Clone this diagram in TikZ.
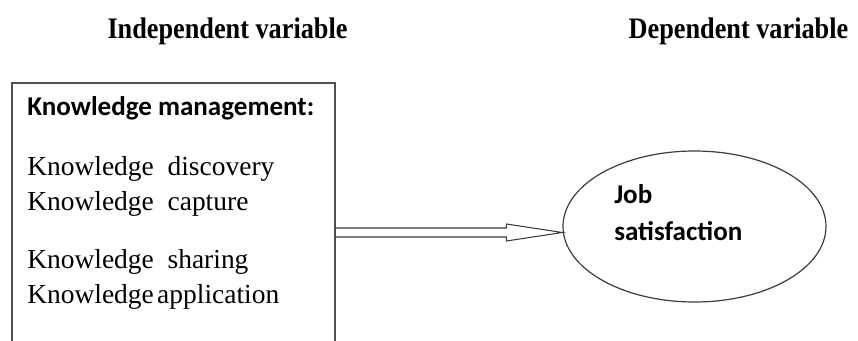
\documentclass[tikz,border=0pt]{standalone}
\usepackage{fontspec}
\setmainfont{Liberation Serif}
\newfontfamily\calibfont{Carlito}
\usetikzlibrary{arrows,calc,positioning,shapes}
\tikzset{
  varlabel/.style = {anchor=base, inner sep=0pt, font=\bfseries\fontsize{20.3}{24}\selectfont},
  itemtext/.style = {anchor=base west, inner sep=0pt, font=\fontsize{20.6}{24}\selectfont},
  headtext/.style = {itemtext, font=\calibfont\bfseries\fontsize{20.3}{24}\selectfont}
}
\definecolor{my_gray}{RGB}{80, 80, 80}
\definecolor{my_line}{RGB}{60, 60, 60}

\begin{document}
\begin{tikzpicture}[x=0.75pt, y=-0.75pt,
        	box/.style={draw=my_gray, line width=1.5pt},
        	oval/.style={draw=my_line, ellipse, line width=0.9pt, minimum width=197.25pt, minimum height=113.25pt},
        	hollow/.style={draw=my_line, line width=0.8pt, line join=miter}]
    \useasboundingbox (0,0) rectangle (858,340);
    % headings
    \node [varlabel] (indep) at (227.5,38) {\scalebox{0.97}[1.1]{Independent variable}};
    \node [varlabel] (dep) at (738.5,38) {\scalebox{0.97}[1.1]{Dependent variable}};
    % knowledge management box, open at the bottom
    \coordinate (boxtl) at (12,83);
    \coordinate (boxtr) at (335,83);
    \draw [box] ($(boxtl)+(0,280)$) -- (boxtl) -- (boxtr) -- ($(boxtr)+(0,280)$);
    \node [headtext] (km) at (27,115) {Knowledge management:};
    \node [itemtext] (disc) at (27,175) {Knowledge~~discovery};
    \node [itemtext] (capt) at (27,210) {Knowledge~~capture};
    \node [itemtext] (shar) at (27,268) {Knowledge~~sharing};
    \node [itemtext] (appl) at (27,303) {Knowledge\hspace{2.5pt}application};
    % job satisfaction
    \node [oval] (js) at (694.5,226.5) {};
    \node [headtext] (job) at (614,203) {Job};
    \node [headtext] (sat) at (614,240) {satisfaction};
    % hollow arrow
    \coordinate (tip) at ($(js.west)+(0,6)$);
    \coordinate (start) at (boxtr |- tip);
    \draw [hollow] ($(start)+(0,-4.5)$) -- ($(tip)+(-56,-4.5)$) -- ($(tip)+(-56,-8.5)$) -- (tip)
        -- ($(tip)+(-56,8.5)$) -- ($(tip)+(-56,4.5)$) -- ($(start)+(0,4.5)$);
\end{tikzpicture}
\end{document}
